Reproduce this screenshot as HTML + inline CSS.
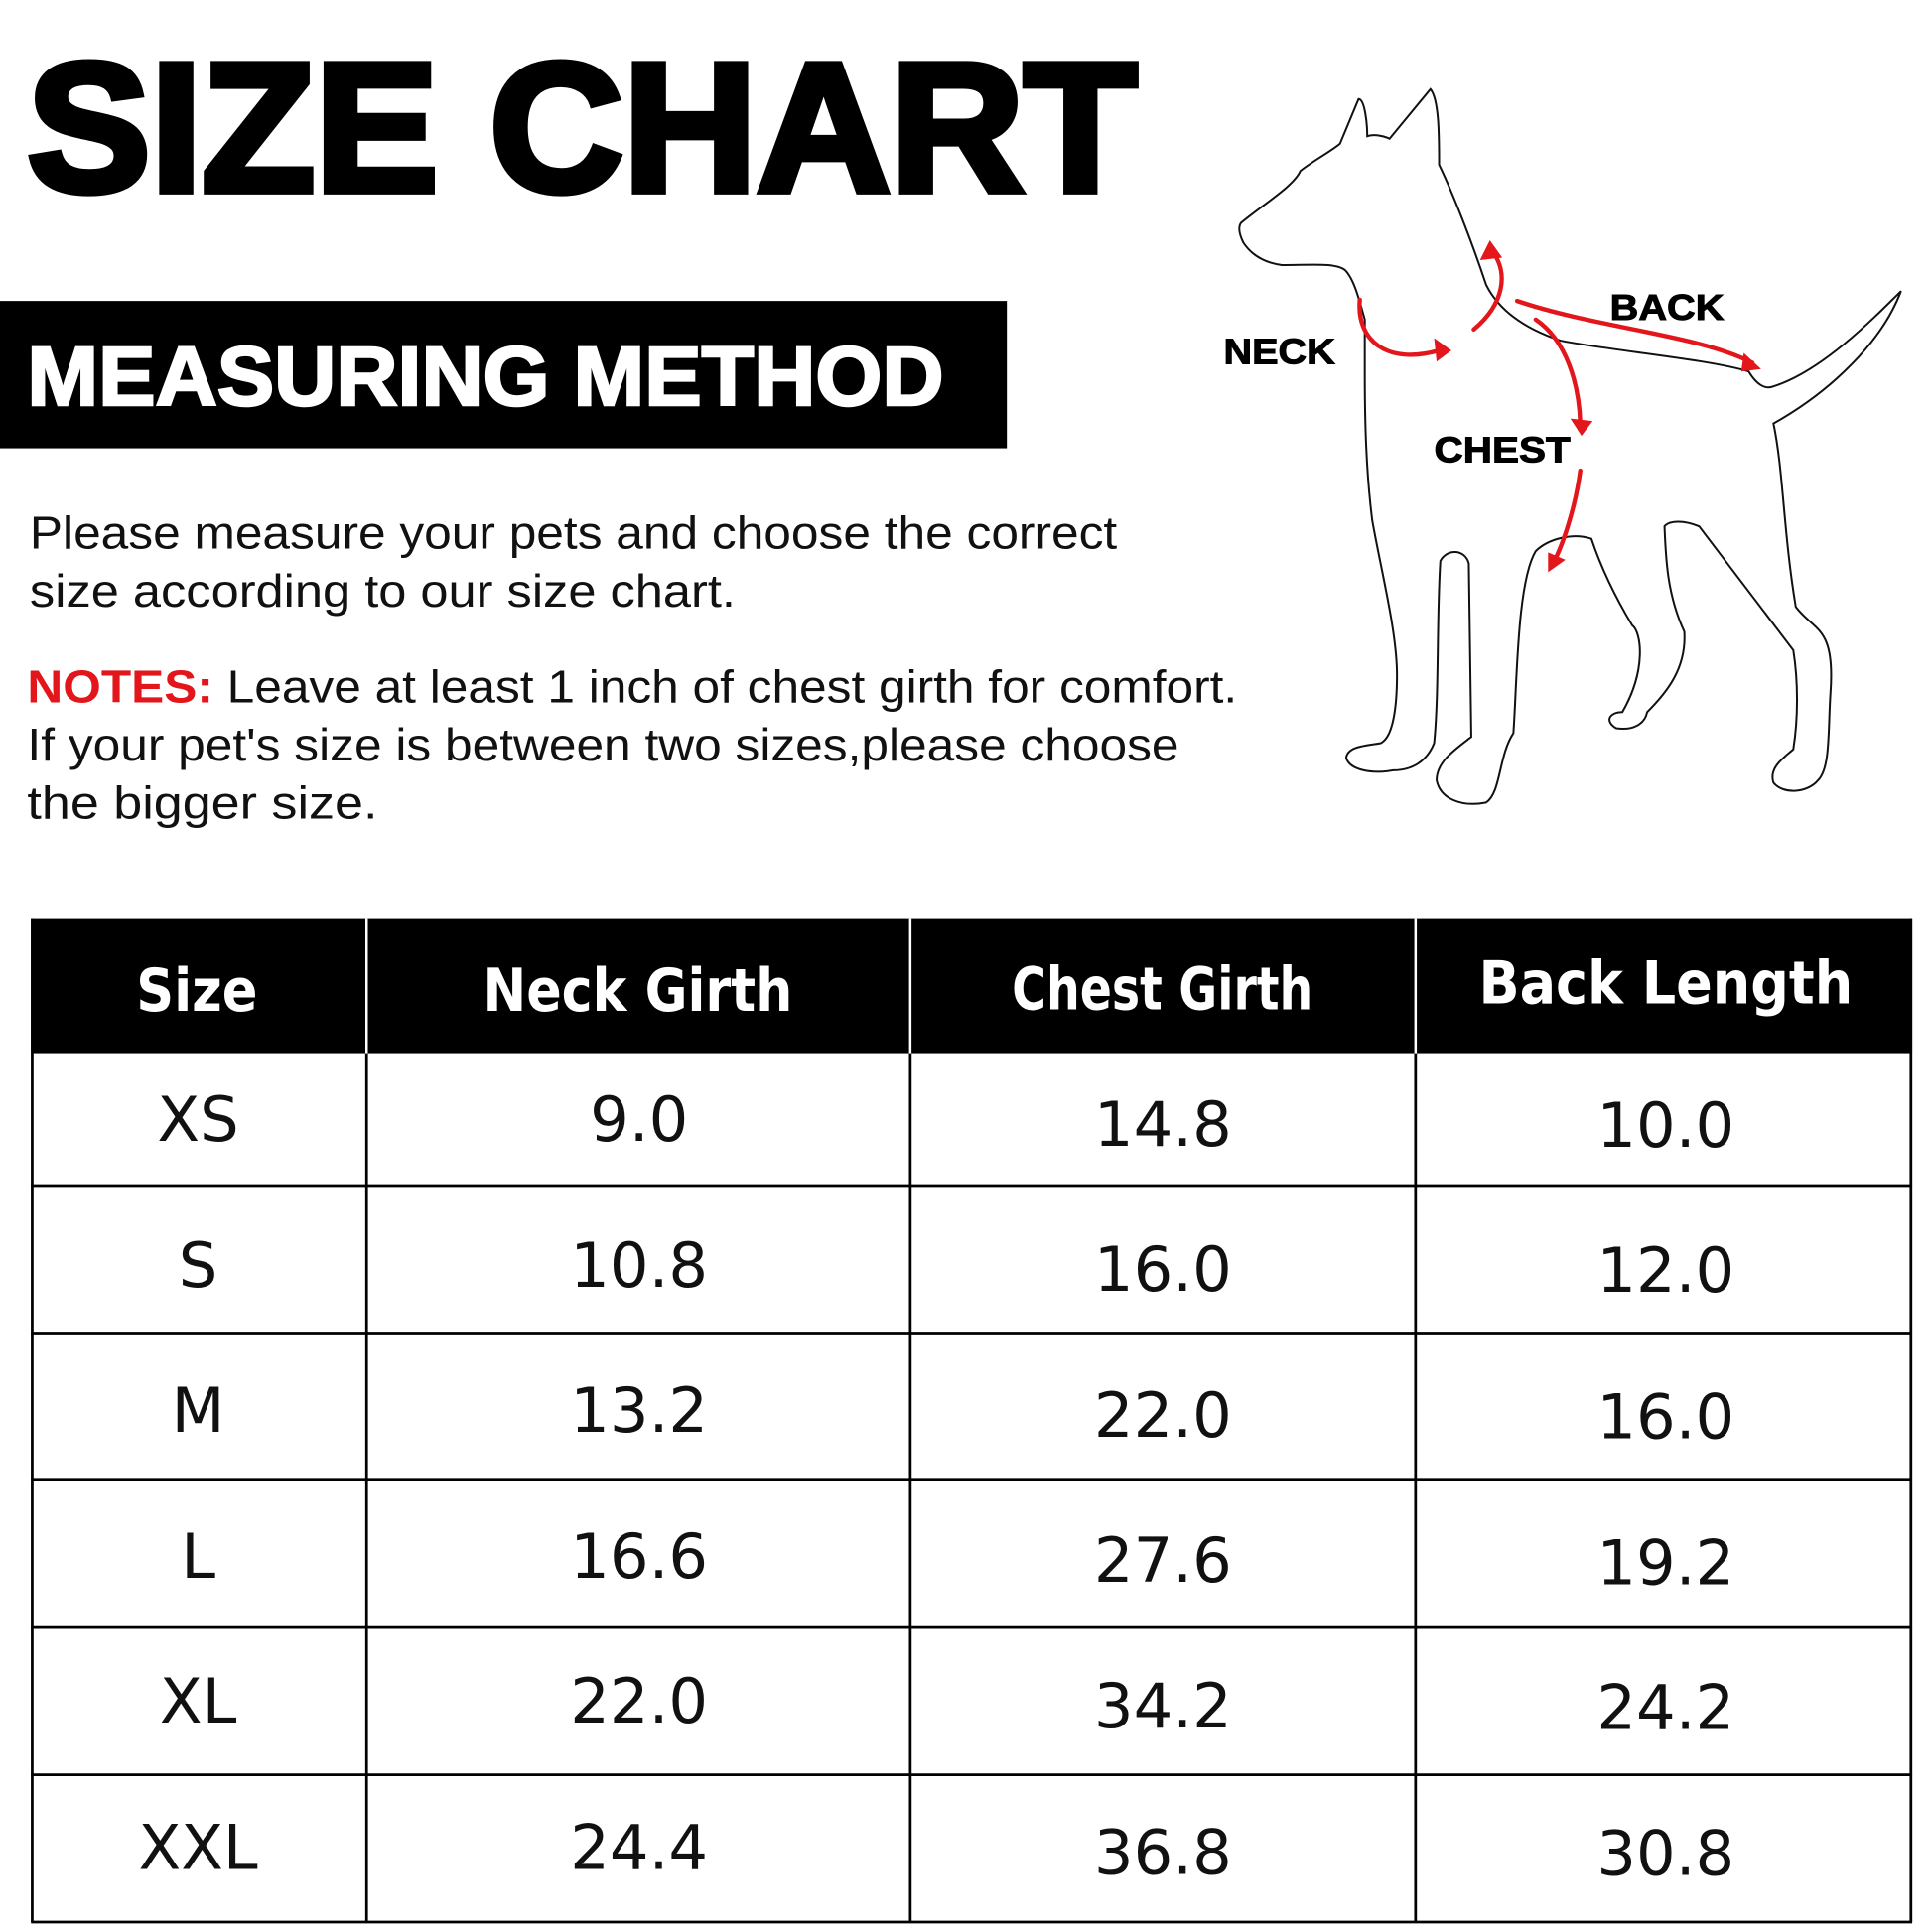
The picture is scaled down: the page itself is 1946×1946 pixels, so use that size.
<!DOCTYPE html>
<html><head><meta charset="utf-8"><style>
html,body{margin:0;padding:0;background:#fff;}
svg{display:block;}
</style></head><body>
<svg width="1946" height="1946" viewBox="0 0 1560 1560" xmlns="http://www.w3.org/2000/svg">
<rect width="1560" height="1560" fill="#fff"/>
<text x="22" y="154" font-family="Liberation Sans" font-weight="bold" font-size="148" textLength="896" lengthAdjust="spacingAndGlyphs" stroke="#000" stroke-width="6" fill="#000">SIZE CHART</text>
<rect x="0" y="243" width="813" height="119" fill="#000"/>
<text x="22" y="327" font-family="Liberation Sans" font-weight="bold" font-size="68" textLength="740" lengthAdjust="spacingAndGlyphs" stroke="#fff" stroke-width="2" fill="#fff">MEASURING METHOD</text>
<g font-family="Liberation Sans" font-size="37" fill="#111">
<text x="24" y="443" textLength="878" lengthAdjust="spacingAndGlyphs">Please measure your pets and choose the correct</text>
<text x="24" y="490" textLength="570" lengthAdjust="spacingAndGlyphs">size  according to our size chart.</text>
<text x="22" y="567" textLength="977" lengthAdjust="spacingAndGlyphs"><tspan fill="#e3161b" font-weight="bold">NOTES:</tspan> Leave at least 1 inch of chest girth for comfort.</text>
<text x="22" y="614" textLength="930" lengthAdjust="spacingAndGlyphs">If your pet's size is between two sizes,please choose</text>
<text x="22" y="661" textLength="283" lengthAdjust="spacingAndGlyphs">the  bigger size.</text>
</g>
<!-- dog -->
<path d="M1002,180 C1020,165 1045,150 1050,138 C1060,130 1075,122 1082,116 L1097,80 C1102,80 1104,100 1104,110 C1110,108 1118,110 1122,112 L1155,72 C1162,80 1162,110 1162,133 C1175,160 1190,200 1200,230 C1210,250 1230,265 1260,275 C1300,283 1380,290 1412,300 C1418,310 1425,315 1432,312 C1470,300 1510,260 1535,235 C1520,275 1480,315 1432,342 C1440,380 1440,430 1450,490 C1465,510 1482,505 1478,560 C1476,590 1478,620 1468,630 C1460,640 1440,642 1432,632 C1428,620 1440,612 1448,605 C1452,580 1452,550 1448,525 L1372,425 C1360,420 1348,420 1344,425 C1345,450 1346,480 1360,510 C1362,540 1345,560 1330,575 C1328,585 1318,590 1305,588 C1295,582 1300,575 1310,575 C1330,540 1325,510 1318,505 C1300,475 1290,450 1285,435 C1270,430 1250,435 1240,445 C1225,470 1225,550 1222,592 C1210,610 1212,640 1200,648 C1180,652 1163,645 1160,630 C1160,615 1175,605 1188,595 L1186,455 C1183,443 1168,443 1163,453 C1160,500 1162,560 1158,600 C1152,615 1140,622 1125,622 C1108,625 1090,622 1087,612 C1088,602 1105,602 1115,600 C1125,595 1128,570 1128,545 C1128,510 1115,460 1108,420 C1103,380 1102,340 1102,300 L1102,258 C1097,240 1093,225 1086,218 C1078,212 1060,214 1035,214 C1020,212 1010,205 1004,196 C1000,188 1000,183 1002,180 Z" fill="none" stroke="#111" stroke-width="1.6"/>
<g fill="none" stroke="#e3161b" stroke-width="3.5" stroke-linecap="round">
<path d="M1098,242 C1095,275 1120,295 1162,283"/>
<path d="M1190,266 C1215,245 1218,220 1205,203"/>
<path d="M1225,243 C1290,265 1370,270 1415,293"/>
<path d="M1240,258 C1265,275 1275,310 1276,342"/>
<path d="M1276,380 C1272,410 1262,440 1254,455"/>
</g>
<g fill="#e3161b">
<polygon points="1172,283 1158,273 1160,292"/>
<polygon points="1203,194 1195,210 1213,208"/>
<polygon points="1422,298 1408,285 1406,300"/>
<polygon points="1277,352 1268,338 1286,340"/>
<polygon points="1250,462 1250,446 1264,452"/>
</g>
<g font-family="Liberation Sans" font-weight="bold" font-size="29" fill="#000" stroke="#000" stroke-width="0.8">
<text x="988" y="294" textLength="90" lengthAdjust="spacingAndGlyphs">NECK</text>
<text x="1300" y="258" textLength="92" lengthAdjust="spacingAndGlyphs">BACK</text>
<text x="1158" y="373" textLength="110" lengthAdjust="spacingAndGlyphs">CHEST</text>
</g>
<!-- table -->
<rect x="25" y="742" width="1519" height="109" fill="#000"/>
<g stroke="#fff" stroke-width="2">
<line x1="296" y1="742" x2="296" y2="851"/><line x1="735" y1="742" x2="735" y2="851"/><line x1="1143" y1="742" x2="1143" y2="851"/>
</g>
<g stroke="#000" stroke-width="2.2" fill="none">
<line x1="26" y1="742" x2="26" y2="1552"/><line x1="1543" y1="742" x2="1543" y2="1552"/>
<line x1="296" y1="851" x2="296" y2="1552"/><line x1="735" y1="851" x2="735" y2="1552"/><line x1="1143" y1="851" x2="1143" y2="1552"/>
<line x1="25" y1="958" x2="1544" y2="958"/><line x1="25" y1="1077" x2="1544" y2="1077"/>
<line x1="25" y1="1195" x2="1544" y2="1195"/><line x1="25" y1="1314" x2="1544" y2="1314"/>
<line x1="25" y1="1433" x2="1544" y2="1433"/><line x1="25" y1="1552" x2="1544" y2="1552"/>
</g>
<g font-family="DejaVu Sans" font-weight="bold" font-size="48" fill="#fff">
<text x="110" y="816" textLength="98" lengthAdjust="spacingAndGlyphs">Size</text>
<text x="390" y="816" textLength="250" lengthAdjust="spacingAndGlyphs">Neck Girth</text>
<text x="817" y="815" textLength="243" lengthAdjust="spacingAndGlyphs">Chest Girth</text>
<text x="1194" y="810" textLength="302" lengthAdjust="spacingAndGlyphs">Back Length</text>
</g>
<g font-family="DejaVu Sans" font-size="50" fill="#111" text-anchor="middle">
<text x="160" y="921">XS</text><text x="516" y="921">9.0</text><text x="939" y="925">14.8</text><text x="1345" y="926">10.0</text>
<text x="160" y="1039">S</text><text x="516" y="1039">10.8</text><text x="939" y="1042">16.0</text><text x="1345" y="1043">12.0</text>
<text x="160" y="1156">M</text><text x="516" y="1156">13.2</text><text x="939" y="1160">22.0</text><text x="1345" y="1161">16.0</text>
<text x="160" y="1274">L</text><text x="516" y="1274">16.6</text><text x="939" y="1277">27.6</text><text x="1345" y="1279">19.2</text>
<text x="160" y="1391">XL</text><text x="516" y="1391">22.0</text><text x="939" y="1395">34.2</text><text x="1345" y="1396">24.2</text>
<text x="160" y="1509">XXL</text><text x="516" y="1509">24.4</text><text x="939" y="1513">36.8</text><text x="1345" y="1514">30.8</text>
</g>
</svg>
</body></html>
